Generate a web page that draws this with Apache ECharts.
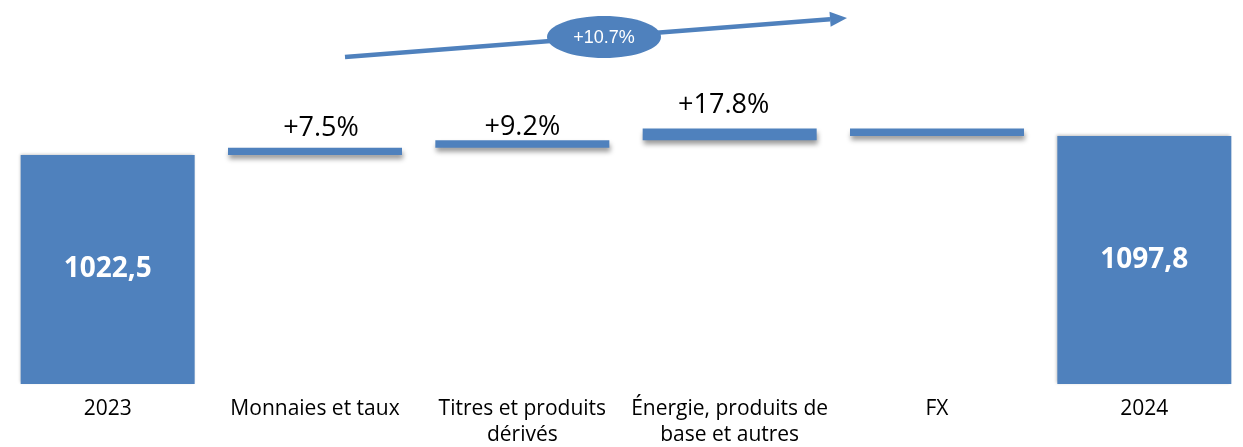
<!DOCTYPE html>
<html>
<head>
<meta charset="utf-8">
<script src="https://cdn.jsdelivr.net/npm/echarts@6/dist/echarts.min.js"></script>
<style>
html,body{margin:0;padding:0;background:#fff;}
#chart{width:1243px;height:447px;}
</style>
</head>
<body>
<div id="chart"></div>
<script>
// ---- data ----
const categories = ['2023', 'Monnaies et taux', 'Titres et produits\ndérivés', 'Énergie, produits de\nbase et autres', 'FX', '2024'];
const startTotal = 1022.5;
const endTotal = 1097.8;
const deltas = [29.0, 30.0, 47.0, -30.7];          // Monnaies, Titres, Énergie, FX (estimated)
const totalLabels = ['1022,5', '1097,8'];
const pctLabels = ['', '+7.5%', '+9.2%', '+17.8%', '', ''];
const overallGrowth = '+10.7%';

// ---- build waterfall ----
const BLUE = '#4F81BD';
const baseData = [];
const valueData = [];
let running = startTotal;
baseData.push(0);
valueData.push({
  value: startTotal,
  label: {show: true, position: 'inside', formatter: totalLabels[0], color: '#fff',
          fontFamily: 'Open Sans', fontWeight: 'bold', fontSize: 28}
});
const labelOffsets = [[6, -6], [0, 1], [-6, -10], [0, 0]];
deltas.forEach((d, i) => {
  const lo = Math.min(running, running + d);
  baseData.push(lo);
  const txt = pctLabels[i + 1];
  valueData.push({
    value: Math.abs(d),
    label: {show: !!txt, position: 'top', distance: 0, offset: labelOffsets[i], formatter: txt,
            color: '#000', fontFamily: 'Open Sans', fontSize: 27},
    itemStyle: {shadowBlur: 5, shadowOffsetX: 1, shadowOffsetY: 4, shadowColor: 'rgba(0,0,0,0.4)'}
  });
  running += d;
});
baseData.push(0);
valueData.push({
  value: endTotal,
  label: {show: true, position: 'inside', formatter: totalLabels[1], color: '#fff',
          fontFamily: 'Open Sans', fontWeight: 'bold', fontSize: 28}
});

const chart = echarts.init(document.getElementById('chart'), null, {renderer: 'canvas'});

// arrow geometry (annotation)
const ax0 = 345, ay0 = 57, tipX = 847, tipY = 18;
const dx = tipX - ax0, dy = tipY - ay0, L = Math.hypot(dx, dy);
const ux = dx / L, uy = dy / L, px = -uy, py = ux;
const headLen = 17, headHalf = 7.5;
const bx = tipX - headLen * ux, by = tipY - headLen * uy;

chart.setOption({
  animation: false,
  grid: {left: 4, width: 1244, top: 0, bottom: 63, outerBoundsMode: 'none', containLabel: false},
  xAxis: {
    type: 'category',
    data: categories,
    axisLine: {show: false},
    axisTick: {show: false},
    axisLabel: {color: '#000', fontFamily: 'Open Sans', fontSize: 21, lineHeight: 26, margin: 12, interval: 0}
  },
  yAxis: {type: 'value', min: 110, max: 1640, show: false, splitLine: {show: false}},
  series: [
    {type: 'bar', stack: 'w', data: baseData, barWidth: 174, itemStyle: {color: 'transparent'}, silent: true},
    {type: 'bar', stack: 'w', data: valueData, barWidth: 174,
     itemStyle: {color: BLUE, shadowBlur: 3, shadowOffsetX: -1, shadowOffsetY: -1, shadowColor: 'rgba(0,0,0,0.25)'}}
  ],
  graphic: [
    {type: 'line', shape: {x1: ax0, y1: ay0, x2: bx, y2: by}, style: {stroke: BLUE, lineWidth: 4.5}},
    {type: 'polygon', shape: {points: [[tipX, tipY], [bx + headHalf * px, by + headHalf * py], [bx - headHalf * px, by - headHalf * py]]},
     style: {fill: BLUE}},
    {type: 'ellipse', shape: {cx: 604, cy: 37, rx: 57, ry: 21}, style: {fill: BLUE}},
    {type: 'text', x: 604, y: 38, style: {text: overallGrowth, fill: '#fff', font: '18px "Liberation Sans", Arial, sans-serif',
      textAlign: 'center', textVerticalAlign: 'middle'}}
  ]
});
</script>
</body>
</html>
